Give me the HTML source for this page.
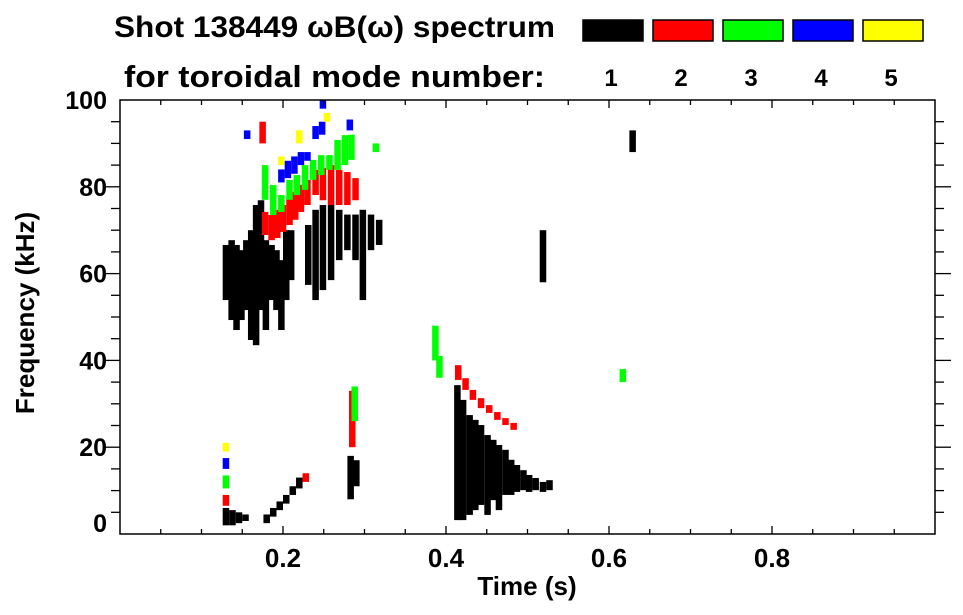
<!DOCTYPE html>
<html><head><meta charset="utf-8">
<style>
body{margin:0;background:#fff;}
svg{display:block;font-family:"Liberation Sans",sans-serif;font-weight:bold;}
</style></head>
<body>
<svg id="chart" width="963" height="615" viewBox="0 0 963 615" xmlns="http://www.w3.org/2000/svg">
<text x="114" y="37" font-size="30" textLength="441" lengthAdjust="spacingAndGlyphs">Shot 138449 ωB(ω) spectrum</text>
<text x="124" y="87" font-size="31" textLength="421" lengthAdjust="spacingAndGlyphs">for toroidal mode number:</text>
<g id="legend"></g>
<g id="marks"></g>
<g id="axes"></g>
<text x="527" y="595" font-size="26" text-anchor="middle">Time (s)</text>
<text transform="translate(34,313) rotate(-90)" font-size="26" text-anchor="middle">Frequency (kHz)</text>
</svg>
<script>
// data
const modeColors = ["#000000","#ff0000","#00ff00","#0000ff","#ffff00"];
const modeLabels = ["1","2","3","4","5"];
const xTicks = [0.2,0.4,0.6,0.8];
const yTicks = [0,20,40,60,80,100];
// mode 1 (black) slices: time, low freq, high freq
const m1T  = [.126,.133,.139,.145,.151,.157,.163,.169,.175,.182,.188,.194,.200,.206,
              .227,.236,.245,.255,.265,.275,.285,.294,.304,.314,
              .410,.417,.425,.432,.439,.447,.454,.461,.469,.476,.483,.491,.498,.506,.515,.523,
              .126,.134,.142,.150,.176,.184,.192,.200,.208,.216,.279,.286,.515,.625];
const m1Lo = [53.9,49.3,47.0,49.3,51.6,44.7,43.5,51.6,47.0,53.9,51.6,47.0,53.9,58.5,
              57.4,53.9,56.2,58.5,63.1,65.4,63.1,53.9,65.4,66.6,
              3.2,3.2,4.4,5.5,6.7,4.4,7.8,5.5,9.0,9.0,9.7,10.1,9.7,10.1,9.7,10.1,
              2,2,2.5,3,2.5,4,5.5,7,9,10.5,8,11,58,88];
const m1Hi = [66.6,67.7,66.6,65.4,67.7,70.0,75.8,76.9,67.7,66.6,65.4,63.1,70.0,70.0,
              71.2,74.7,75.8,75.8,74.7,73.6,73.6,74.7,73.6,72.4,
              34.3,30.9,27.4,26.3,25.1,22.8,21.7,20.5,19.4,17.1,15.9,14.7,13.6,12.9,12.0,12.4,
              6,5.5,5,4.5,4.5,6,7.5,9,11,13,18,17,70,93];
// mode 2 (red)
const m2T  = [.174,.182,.189,.196,.204,.211,.218,.226,.236,.245,.255,.265,.275,.285,
              .281,.411,.420,.429,.439,.449,.459,.469,.479,.126,.171,.224];
const m2Lo = [68.9,67.7,68.2,69.6,71.2,72.4,74.2,75.8,78.1,76.9,75.8,75.8,75.8,76.9,
              20,35.5,33.2,30.9,29.0,27.9,26.3,25.1,24.0,6.5,90,12];
const m2Hi = [74.2,73.5,74.7,75.8,77.4,78.8,80.4,81.6,83.9,84.3,85.0,83.9,83.4,82.0,
              33,38.9,35.9,33.2,31.3,29.7,28.1,26.7,25.6,9,95,14];
// mode 3 (green)
const m3T  = [.174,.184,.194,.204,.213,.223,.233,.243,.253,.263,.272,.280,
              .284,.383,.388,.613,.126,.310];
const m3Lo = [77.0,73.5,74.2,77.0,78.1,79.3,81.6,82.7,83.9,83.9,85.0,86.2,
              26,40,36,35,10.5,88];
const m3Hi = [85.0,80.4,78.1,81.6,82.7,85.0,86.2,87.3,87.3,90.8,91.9,92.0,
              34,48,41,38,13.5,90];
// mode 4 (blue)
const m4T  = [.194,.202,.210,.218,.226,.236,.244,.245,.278,.126,.152];
const m4Lo = [81,82,83,85,86,91,92,98,93,15,91];
const m4Hi = [84,86,87,88,88,94,95,100,95.5,17.5,93];
// mode 5 (yellow)
const m5T  = [.194,.216,.126,.250];
const m5Lo = [85,90,19,95];
const m5Hi = [87,93,21,97];
const modeT  = [m1T,m2T,m3T,m4T,m5T];
const modeLo = [m1Lo,m2Lo,m3Lo,m4Lo,m5Lo];
const modeHi = [m1Hi,m2Hi,m3Hi,m4Hi,m5Hi];
const sliceWidth = 0.008;

const X0=120, X1=935, Y0=534, Y1=100;
const xs = t => X0 + t*(X1-X0);
const ys = f => Y0 - f/100*(Y0-Y1);
const NS="http://www.w3.org/2000/svg";
function mk(tag, attrs, parent){const e=document.createElementNS(NS,tag);for(const k in attrs)e.setAttribute(k,attrs[k]);parent.appendChild(e);return e;}

// marks
const marks=document.getElementById('marks');
modeT.forEach((arr,m)=>{
  arr.forEach((t,i)=>{
    const r=mk('rect',{x:xs(t),y:ys(modeHi[m][i]),width:xs(t+sliceWidth)-xs(t),height:ys(modeLo[m][i])-ys(modeHi[m][i]),fill:modeColors[m]},marks);
    
    
  });
});

// legend
const leg=document.getElementById('legend');
modeColors.forEach((c,i)=>{
  const bx=583+i*70;
  const r=mk('rect',{x:bx,y:20,width:60,height:21,fill:c,stroke:'#000','stroke-width':1.5},leg);
  
  
  const tx=mk('text',{x:bx+28,y:86,'font-size':24,'text-anchor':'middle'},leg);
  tx.textContent=modeLabels[i];
  
  
});

// axes
const ax=document.getElementById('axes');
const frame=mk('rect',{x:X0,y:Y1,width:X1-X0,height:Y0-Y1,fill:'none',stroke:'#000','stroke-width':1.5},ax);


for(let t=0.05;t<1;t+=0.05){
  const major=Math.abs(t*5-Math.round(t*5))<1e-6;
  const L=major?8:5;
  mk('line',{x1:xs(t),x2:xs(t),y1:Y0,y2:Y0-L,stroke:'#000','stroke-width':1.3},ax);
  mk('line',{x1:xs(t),x2:xs(t),y1:Y1,y2:Y1+L,stroke:'#000','stroke-width':1.3},ax);
}
for(let f=5;f<100;f+=5){
  const major=f%20===0;
  const L=major?16:9;
  mk('line',{x1:X0,x2:X0-L,y1:ys(f),y2:ys(f),stroke:'#000','stroke-width':1.3},ax);
  mk('line',{x1:X1,x2:X1+L,y1:ys(f),y2:ys(f),stroke:'#000','stroke-width':1.3},ax);
}
xTicks.forEach(t=>{
  const tx=mk('text',{x:xs(t),y:567,'font-size':26,'text-anchor':'middle'},ax);
  tx.textContent=t.toFixed(1);
  
  
});
yTicks.forEach(f=>{
  const yy = f===0 ? ys(f)-2 : ys(f)+9;
  const tx=mk('text',{x:107,y:yy,'font-size':25,'text-anchor':'end'},ax);
  tx.textContent=String(f);
  
  
});
</script>
</body></html>
